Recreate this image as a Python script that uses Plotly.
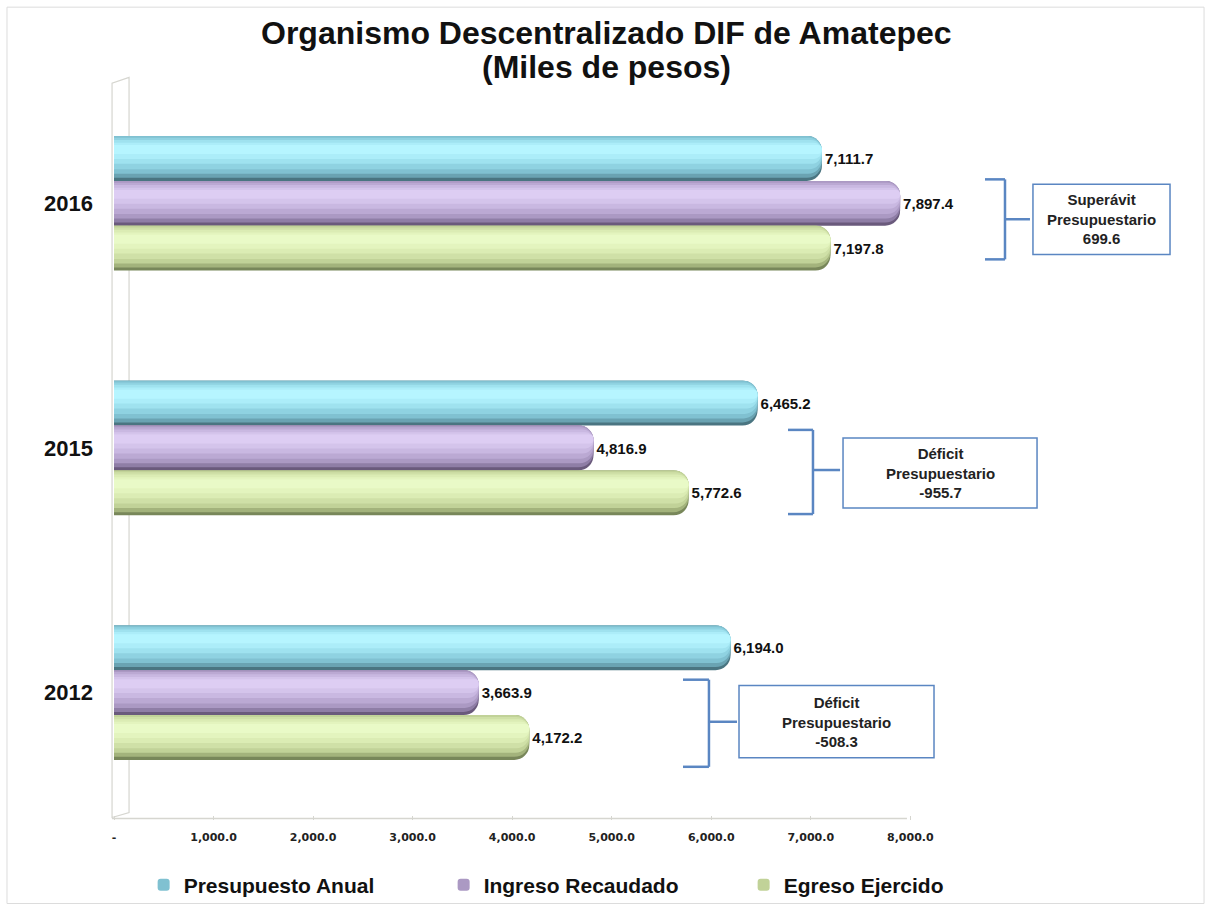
import plotly.graph_objects as go

# data (miles de pesos)
years = ["2016", "2015", "2012"]
presupuesto = [7111.7, 6465.2, 6194.0]
ingreso = [7897.4, 4816.9, 3663.9]
egreso = [7197.8, 5772.6, 4172.2]

series_names = ["Presupuesto Anual", "Ingreso Recaudado", "Egreso Ejercido"]
tick_vals = [0, 1000, 2000, 3000, 4000, 5000, 6000, 7000, 8000]
tick_text = ["-", "1,000.0", "2,000.0", "3,000.0", "4,000.0",
             "5,000.0", "6,000.0", "7,000.0", "8,000.0"]

# cylinder shading, from the dark outer edge in to the highlight
palettes = [
    ["#4a7581", "#6aa3b2", "#80c1d1", "#8fd2e1", "#9fe2ef", "#acedf9", "#b6f5ff"],
    ["#6a5a7c", "#8f7ea6", "#ab99c3", "#bba9d3", "#c9b8e1", "#d4c4eb", "#ddcdf3"],
    ["#78875a", "#a3b37c", "#c1d298", "#cfe0a7", "#dbecb4", "#e3f4be", "#e9fac7"],
]
# (start, end) of each layer as a fraction of the bar thickness, top to bottom
layers = [(0.0, 1.0), (0.0, 0.93), (0.0, 0.84), (0.04, 0.74),
          (0.09, 0.62), (0.15, 0.51), (0.2, 0.4)]
radii = [15, 15, 14, 13, 11, 9, 6]
legend_layer = 2

band = 0.55
bar_w = band / 3

fig = go.Figure()
for i, (name, vals) in enumerate(zip(series_names, [presupuesto, ingreso, egreso])):
    off0 = -band / 2 + i * bar_w
    for j, (a, b) in enumerate(layers):
        fig.add_trace(go.Bar(
            y=years, x=vals, orientation="h",
            name=name, legendgroup=name,
            showlegend=(j == legend_layer),
            offset=off0 + a * bar_w, width=(b - a) * bar_w,
            marker=dict(color=palettes[i][j], line=dict(width=0), cornerradius=radii[j]),
            texttemplate="%{x:,.1f}" if j == 0 else None,
            textposition="outside" if j == 0 else "none",
            textfont=dict(family="Liberation Sans, Arial", size=15, color="#111111", weight="bold"),
            cliponaxis=False,
            hoverinfo="skip" if j else None,
        ))

# brackets and balance boxes (x in pesos, y relative to category centre)
saldo = [round(ing - eg, 1) for ing, eg in zip(ingreso, egreso)]
tipo = ["Superávit" if s >= 0 else "Déficit" for s in saldo]
bracket_x = [(8750, 8951, 9202), (6771, 7022, 7294), (5716, 5977, 6259)]
bracket_y = [(-0.098, 0.065, 0.229), (-0.074, 0.09, 0.27), (-0.053, 0.119, 0.303)]
box_x = [(9232, 10609), (7324, 9273), (6279, 8238)]
box_y = [(-0.078, 0.209), (-0.041, 0.245), (-0.029, 0.266)]

blue = "#5a86c2"
shapes = []
for k in range(3):
    xt, xv, xm = bracket_x[k]
    yt, ym, yb = bracket_y[k]
    for (xa, ya, xb, yb2) in [(xt, k + yt, xv, k + yt), (xv, k + yt, xv, k + yb),
                              (xt, k + yb, xv, k + yb), (xv, k + ym, xm, k + ym)]:
        shapes.append(dict(type="line", xref="x", yref="y", x0=xa, y0=ya, x1=xb, y1=yb2,
                           line=dict(color=blue, width=2.5)))
    bx0, bx1 = box_x[k]
    by0, by1 = box_y[k]
    shapes.append(dict(type="rect", xref="x", yref="y", x0=bx0, x1=bx1, y0=k + by0, y1=k + by1,
                       line=dict(color=blue, width=1.5), fillcolor="white", layer="below"))
    fig.add_annotation(x=(bx0 + bx1) / 2, y=k + (by0 + by1) / 2, xref="x", yref="y",
                       text=f"<b>{tipo[k]}<br>Presupuestario<br>{saldo[k]:,.1f}</b>",
                       showarrow=False,
                       font=dict(family="Liberation Sans, Arial", size=15, color="#222222"))

# side wall and floor of the 3d plot
grey = "#d6d6d0"
shapes.append(dict(type="path", xref="paper", yref="paper", layer="below",
                   path="M -0.0018,-0.0034 L -0.0018,0.997 L 0.0139,1.005 L 0.0139,0.0034 Z",
                   line=dict(color=grey, width=1.2)))
shapes.append(dict(type="line", xref="paper", yref="paper", x0=-0.0018, x1=0.7322,
                   y0=-0.0048, y1=-0.0048, line=dict(color=grey, width=1.5)))
# chart frame
shapes.append(dict(type="rect", xref="paper", yref="paper", x0=-0.0988, x1=1.0065,
                   y0=-0.1206, y1=1.1006, line=dict(color="#dcdcdc", width=1)))

# title, two lines
title_font = dict(family="Liberation Sans, Arial", size=32, color="#111111", weight="bold")
for txt, ty in [("Organismo Descentralizado DIF de Amatepec", 1.0650),
                ("(Miles de pesos)", 1.0190)]:
    fig.add_annotation(text=txt, xref="paper", yref="paper", x=0.4543, y=ty,
                       xanchor="center", yanchor="middle", showarrow=False, font=title_font)

fig.update_layout(
    width=1207, height=906,
    margin=dict(l=114, r=10, t=81, b=91),
    paper_bgcolor="white", plot_bgcolor="white",
    barmode="overlay",
    shapes=shapes,
    xaxis=dict(range=[0, 10880], tickvals=tick_vals, ticktext=tick_text,
               showgrid=False, zeroline=False, showline=False,
               ticks="outside", ticklen=4, tickcolor=grey, ticklabelstandoff=8,
               tickfont=dict(family="DejaVu Sans", size=11, color="#222222", weight="bold")),
    yaxis=dict(type="category", categoryorder="array", categoryarray=years,
               range=[2.5, -0.5], showgrid=False, zeroline=False, showline=False,
               ticks="", ticklabelstandoff=20,
               tickfont=dict(family="Liberation Sans, Arial", size=22, color="#111111", weight="bold")),
    legend=dict(orientation="h", xref="container", yref="container",
                x=0.119, xanchor="left", y=0.0232, yanchor="middle",
                entrywidth=255, entrywidthmode="pixels", bgcolor="rgba(0,0,0,0)",
                font=dict(family="Liberation Sans, Arial", size=21, color="#111111", weight="bold")),
    showlegend=True,
)

fig.write_html("out.html", config={"displayModeBar": False},
               post_script="document.body.style.margin='0';")
